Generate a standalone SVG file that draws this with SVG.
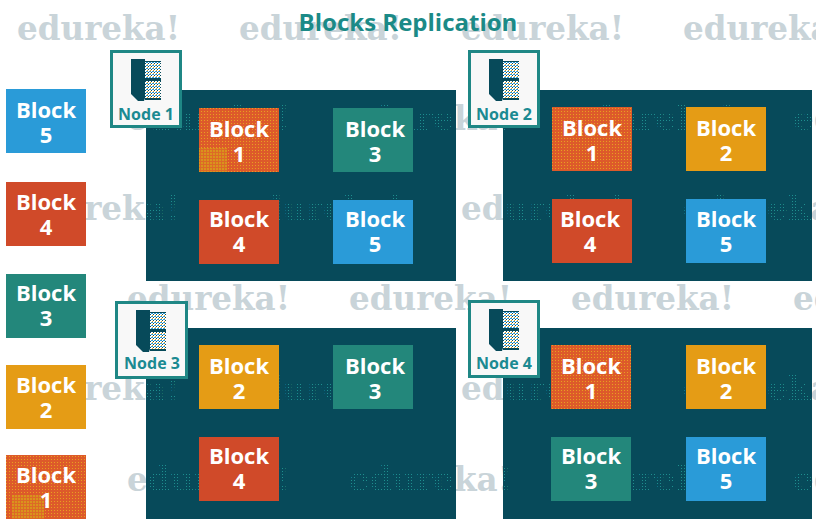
<svg xmlns="http://www.w3.org/2000/svg" width="816" height="520" viewBox="0 0 816 520">
<style>
.wm{font-family:"DejaVu Serif",serif;font-weight:700;font-size:34px;fill:#c9d4d9}
.wd{font-family:"DejaVu Serif",serif;font-weight:700;font-size:34px;fill:url(#wdots)}
.panel{fill:#074a5a}
.b{font-family:"Open Sans",sans-serif;font-weight:700;font-size:22px;fill:#fff;text-anchor:middle}
.n{font-family:"Open Sans",sans-serif;font-weight:700;font-size:16px;fill:#1b8a92;text-anchor:middle}
.tile{fill:#f8f8f8;stroke:#1f8785;stroke-width:3}
.blue{fill:#2a9bd8}.red{fill:#d04a29}.teal{fill:#23877b}.amb{fill:#e59c15}.dith{fill:url(#dots)}.och{fill:url(#ochre)}
.title{font-family:"Open Sans",sans-serif;font-weight:700;font-size:24px;fill:#1b8a87;text-anchor:middle}
</style>
<defs>
<pattern id="wdots" width="3" height="3" patternUnits="userSpaceOnUse"><rect width="1" height="1" fill="#1f8f8f"/></pattern>
<pattern id="dots" width="3" height="3" patternUnits="userSpaceOnUse"><rect width="3" height="3" fill="#dd5a2a"/><rect width="1" height="1" fill="#e8a020"/></pattern>
<pattern id="ochre" width="3" height="3" patternUnits="userSpaceOnUse"><rect width="3" height="3" fill="#dd6a26"/><rect width="2" height="2" fill="#d9941c"/></pattern>
<pattern id="drawer" width="3" height="3" patternUnits="userSpaceOnUse"><rect width="3" height="3" fill="#fff"/><rect width="2" height="1" fill="#2a9bd8"/><rect x="1" y="2" width="1" height="1" fill="#e59c15"/><rect x="2" y="1" width="1" height="1" fill="#074a5a"/></pattern>
<clipPath id="panels"><rect x="146" y="90" width="310" height="191"/><rect x="503" y="90" width="309" height="191"/><rect x="146" y="328" width="310" height="191"/><rect x="503" y="328" width="309" height="191"/></clipPath>
<g id="cab">
<polygon points="0,0 14,0 14,39 13,42 7,42 0,35" fill="#074a5a"/>
<rect x="14" y="2" width="16" height="39" fill="#074a5a"/>
<rect x="14" y="3" width="16" height="16" fill="url(#drawer)"/>
<rect x="14" y="22" width="16" height="17" fill="url(#drawer)"/>
</g>
<g id="marks">
<text x="17" y="40" textLength="163" lengthAdjust="spacingAndGlyphs">edureka!</text>
<text x="239" y="40" textLength="163" lengthAdjust="spacingAndGlyphs">edureka!</text>
<text x="461" y="40" textLength="163" lengthAdjust="spacingAndGlyphs">edureka!</text>
<text x="683" y="40" textLength="163" lengthAdjust="spacingAndGlyphs">edureka!</text>
<text x="127" y="130" textLength="163" lengthAdjust="spacingAndGlyphs">edureka!</text>
<text x="349" y="130" textLength="163" lengthAdjust="spacingAndGlyphs">edureka!</text>
<text x="571" y="130" textLength="163" lengthAdjust="spacingAndGlyphs">edureka!</text>
<text x="793" y="130" textLength="163" lengthAdjust="spacingAndGlyphs">edureka!</text>
<text x="17" y="220" textLength="163" lengthAdjust="spacingAndGlyphs">edureka!</text>
<text x="239" y="220" textLength="163" lengthAdjust="spacingAndGlyphs">edureka!</text>
<text x="461" y="220" textLength="163" lengthAdjust="spacingAndGlyphs">edureka!</text>
<text x="683" y="220" textLength="163" lengthAdjust="spacingAndGlyphs">edureka!</text>
<text x="127" y="310" textLength="163" lengthAdjust="spacingAndGlyphs">edureka!</text>
<text x="349" y="310" textLength="163" lengthAdjust="spacingAndGlyphs">edureka!</text>
<text x="571" y="310" textLength="163" lengthAdjust="spacingAndGlyphs">edureka!</text>
<text x="793" y="310" textLength="163" lengthAdjust="spacingAndGlyphs">edureka!</text>
<text x="17" y="400" textLength="163" lengthAdjust="spacingAndGlyphs">edureka!</text>
<text x="239" y="400" textLength="163" lengthAdjust="spacingAndGlyphs">edureka!</text>
<text x="461" y="400" textLength="163" lengthAdjust="spacingAndGlyphs">edureka!</text>
<text x="683" y="400" textLength="163" lengthAdjust="spacingAndGlyphs">edureka!</text>
<text x="127" y="491" textLength="163" lengthAdjust="spacingAndGlyphs">edureka!</text>
<text x="349" y="491" textLength="163" lengthAdjust="spacingAndGlyphs">edureka!</text>
<text x="571" y="491" textLength="163" lengthAdjust="spacingAndGlyphs">edureka!</text>
<text x="793" y="491" textLength="163" lengthAdjust="spacingAndGlyphs">edureka!</text>
</g>
</defs>
<rect width="816" height="520" fill="#fff"/>
<use href="#marks" class="wm"/>
<text class="title" x="408" y="31">Blocks Replication</text>
<rect class="panel" x="146" y="90" width="310" height="191"/>
<rect class="panel" x="503" y="90" width="309" height="191"/>
<rect class="panel" x="146" y="328" width="310" height="191"/>
<rect class="panel" x="503" y="328" width="309" height="191"/>
<g clip-path="url(#panels)"><use href="#marks" class="wd"/></g>
<g id="queue">
<g id="q5"><rect class="blue" x="6" y="89" width="80" height="64"/><text class="b" x="46" y="118">Block<tspan x="46" dy="25">5</tspan></text></g>
<g id="q4"><rect class="red" x="6" y="182" width="80" height="64"/><text class="b" x="46" y="210">Block<tspan x="46" dy="25">4</tspan></text></g>
<g id="q3"><rect class="teal" x="6" y="274" width="80" height="64"/><text class="b" x="46" y="301">Block<tspan x="46" dy="25">3</tspan></text></g>
<g id="q2"><rect class="amb" x="6" y="365" width="80" height="64"/><text class="b" x="46" y="393">Block<tspan x="46" dy="25">2</tspan></text></g>
<g id="q1"><rect class="dith" x="6" y="455" width="80" height="64"/><rect class="och" x="12" y="495" width="32" height="24"/><text class="b" x="46" y="483">Block<tspan x="46" dy="25">1</tspan></text></g>
</g>
<g id="node1">
<rect class="dith" x="199" y="108" width="80" height="64"/><rect class="och" x="199" y="148" width="28" height="24"/><text class="b" x="239" y="137">Block<tspan x="239" dy="25">1</tspan></text>
<rect class="teal" x="333" y="108" width="80" height="64"/><text class="b" x="375" y="137">Block<tspan x="375" dy="25">3</tspan></text>
<rect class="red" x="199" y="200" width="80" height="64"/><text class="b" x="239" y="227">Block<tspan x="239" dy="25">4</tspan></text>
<rect class="blue" x="333" y="200" width="80" height="64"/><text class="b" x="375" y="227">Block<tspan x="375" dy="25">5</tspan></text>
<rect class="tile" x="111.500" y="51.500" width="69" height="75"/><use href="#cab" x="131" y="59"/><text class="n" x="146" y="120">Node 1</text>
</g>
<g id="node2">
<rect class="dith" x="552" y="107" width="80" height="64"/><text class="b" x="592" y="136">Block<tspan x="592" dy="25">1</tspan></text>
<rect class="amb" x="686" y="107" width="80" height="64"/><text class="b" x="726" y="136">Block<tspan x="726" dy="25">2</tspan></text>
<rect class="red" x="552" y="199" width="80" height="64"/><text class="b" x="590" y="227">Block<tspan x="590" dy="25">4</tspan></text>
<rect class="blue" x="686" y="199" width="80" height="64"/><text class="b" x="726" y="227">Block<tspan x="726" dy="25">5</tspan></text>
<rect class="tile" x="469.500" y="51.500" width="69" height="75"/><use href="#cab" x="489" y="59"/><text class="n" x="504" y="120">Node 2</text>
</g>
<g id="node3">
<rect class="amb" x="199" y="345" width="80" height="64"/><text class="b" x="239" y="374">Block<tspan x="239" dy="25">2</tspan></text>
<rect class="teal" x="333" y="345" width="80" height="64"/><text class="b" x="375" y="374">Block<tspan x="375" dy="25">3</tspan></text>
<rect class="red" x="199" y="437" width="80" height="64"/><text class="b" x="239" y="464">Block<tspan x="239" dy="25">4</tspan></text>
<rect class="tile" x="116.500" y="302.500" width="70" height="75"/><use href="#cab" x="136" y="310"/><text class="n" x="152" y="369">Node 3</text>
</g>
<g id="node4">
<rect class="dith" x="551" y="345" width="80" height="64"/><text class="b" x="591" y="374">Block<tspan x="591" dy="25">1</tspan></text>
<rect class="amb" x="686" y="345" width="80" height="64"/><text class="b" x="726" y="374">Block<tspan x="726" dy="25">2</tspan></text>
<rect class="teal" x="551" y="437" width="80" height="64"/><text class="b" x="591" y="464">Block<tspan x="591" dy="25">3</tspan></text>
<rect class="blue" x="686" y="437" width="80" height="64"/><text class="b" x="726" y="464">Block<tspan x="726" dy="25">5</tspan></text>
<rect class="tile" x="469.500" y="301.500" width="69" height="75"/><use href="#cab" x="489" y="309"/><text class="n" x="504" y="369">Node 4</text>
</g>
<g id="connectors"></g>
</svg>
